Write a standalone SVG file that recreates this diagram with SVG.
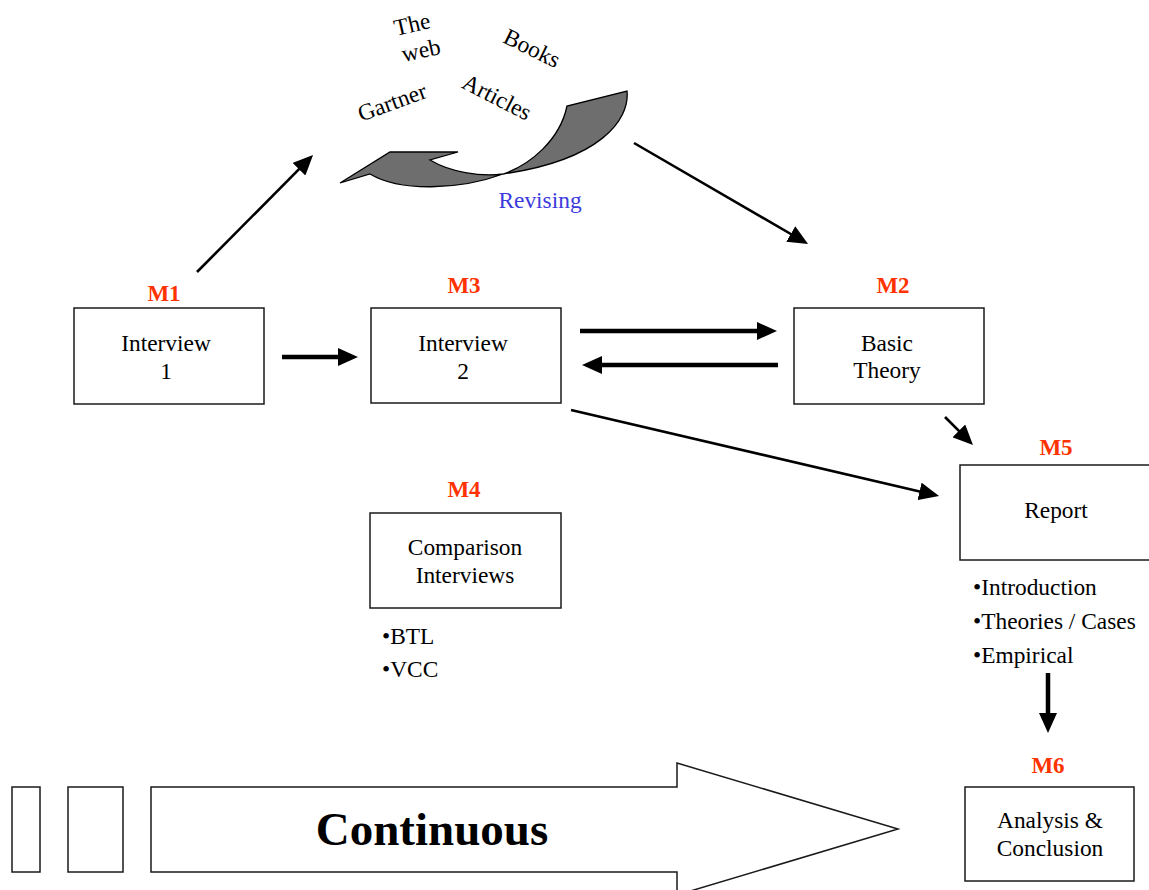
<svg xmlns="http://www.w3.org/2000/svg" width="1149" height="890" viewBox="0 0 1149 890">
  <style>
    .box { fill: #ffffff; stroke: #1a1a1a; stroke-width: 1.5; }
    .txt { font-family: "Liberation Serif", "Times New Roman", serif; font-size: 23.4px; fill: #000000; }
    .mid { text-anchor: middle; }
    .tag { font-family: "Liberation Serif", "Times New Roman", serif; font-size: 23px; font-weight: bold; fill: #ff3300; text-anchor: middle; }
    .thin { stroke: #000000; stroke-width: 2.6; fill: none; marker-end: url(#head); }
    .thick { stroke: #000000; stroke-width: 4.5; fill: none; marker-end: url(#head); }
    .outline { fill: #ffffff; stroke: #1a1a1a; stroke-width: 1.5; }
  </style>
  <defs>
    <marker id="head" markerUnits="userSpaceOnUse" markerWidth="20" markerHeight="18" refX="10" refY="9" orient="auto">
      <path d="M0,0 L20,9 L0,18 z" fill="#000000"/>
    </marker>
  </defs>

  <rect width="1149" height="890" fill="#ffffff"/>

  <!-- sources around the revising loop -->
  <g id="sources" class="txt">
    <text class="mid" transform="translate(412,24) rotate(-13)" y="8">The</text>
    <text class="mid" transform="translate(421,50) rotate(-12)" y="8">web</text>
    <text class="mid" transform="translate(392,102) rotate(-20)" y="8">Gartner</text>
    <text class="mid" transform="translate(497,97) rotate(27)" y="8">Articles</text>
    <text class="mid" transform="translate(532,48) rotate(26)" y="8">Books</text>
  </g>

  <!-- twisted curved arrow -->
  <g id="revising">
    <path d="M340,183 L390,152 L458,152 L430,160 C450,172 480,177 503,174 C530,165 560,140 567,106 L627,91 C630,120 600,160 503,174 C460,190 400,192 370,174 Z"
          fill="#6e6e6e" stroke="#000000" stroke-width="1.3" stroke-linejoin="miter"/>
    <text class="txt mid" x="540" y="208" style="fill:#3b3bdd">Revising</text>
  </g>

  <!-- nodes -->
  <g id="m1">
    <text class="tag" x="164" y="301">M1</text>
    <rect class="box" x="74" y="308" width="190" height="96"/>
    <text class="txt mid" x="166" y="351">Interview</text>
    <text class="txt mid" x="166" y="379">1</text>
  </g>
  <g id="m3">
    <text class="tag" x="464" y="293">M3</text>
    <rect class="box" x="371" y="308" width="190" height="95"/>
    <text class="txt mid" x="463" y="351">Interview</text>
    <text class="txt mid" x="463" y="379">2</text>
  </g>
  <g id="m2">
    <text class="tag" x="893" y="293">M2</text>
    <rect class="box" x="794" y="308" width="190" height="96"/>
    <text class="txt mid" x="887" y="351">Basic</text>
    <text class="txt mid" x="887" y="378">Theory</text>
  </g>
  <g id="m4">
    <text class="tag" x="464" y="497">M4</text>
    <rect class="box" x="370" y="513" width="191" height="95"/>
    <text class="txt mid" x="465" y="555">Comparison</text>
    <text class="txt mid" x="465" y="583">Interviews</text>
    <text class="txt" x="382" y="644">•BTL</text>
    <text class="txt" x="382" y="677">•VCC</text>
  </g>
  <g id="m5">
    <text class="tag" x="1056" y="455">M5</text>
    <rect class="box" x="960" y="465" width="190" height="95"/>
    <text class="txt mid" x="1056" y="518">Report</text>
    <text class="txt" x="973" y="595">•Introduction</text>
    <text class="txt" x="973" y="629">•Theories / Cases</text>
    <text class="txt" x="973" y="663">•Empirical</text>
  </g>
  <g id="m6">
    <text class="tag" x="1048" y="773">M6</text>
    <rect class="box" x="965" y="787" width="169" height="94"/>
    <text class="txt mid" x="1050" y="828">Analysis &amp;</text>
    <text class="txt mid" x="1050" y="856">Conclusion</text>
  </g>

  <!-- continuous timeline arrow -->
  <g id="continuous">
    <rect class="outline" x="12" y="787" width="28" height="85"/>
    <rect class="outline" x="68" y="787" width="55" height="85"/>
    <path class="outline" d="M151,787 L677,787 L677,763 L898,829 L677,895 L677,872 L151,872 Z"/>
    <text x="432" y="845" text-anchor="middle" font-family="Liberation Serif, Times New Roman, serif" font-size="47" font-weight="bold" fill="#000000">Continuous</text>
  </g>

  <!-- connectors -->
  <g id="connectors">
    <line class="thin" x1="197" y1="272" x2="306" y2="162.1"/>
    <line class="thick" x1="282" y1="357" x2="348" y2="357"/>
    <line class="thick" x1="580" y1="331" x2="767" y2="331"/>
    <line class="thick" x1="778" y1="365" x2="592" y2="365"/>
    <line class="thin" x1="634" y1="143" x2="799.4" y2="239"/>
    <line class="thin" x1="945" y1="417" x2="965.9" y2="437.9"/>
    <line class="thin" x1="571" y1="410" x2="929.3" y2="493.7"/>
    <line class="thick" x1="1048" y1="673" x2="1048" y2="723"/>
  </g>
</svg>
